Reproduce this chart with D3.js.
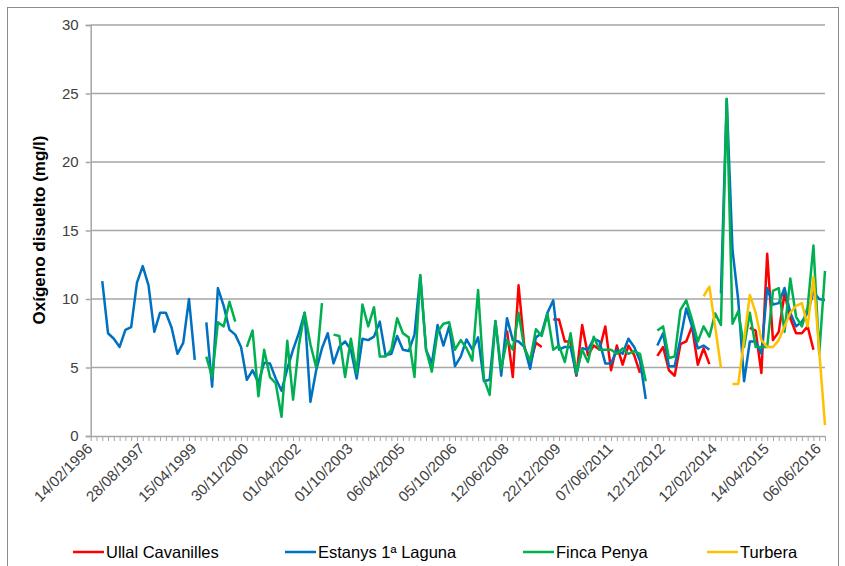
<!DOCTYPE html>
<html><head><meta charset="utf-8">
<script src="https://cdn.jsdelivr.net/npm/d3@7"></script>
<style>body{margin:0;background:#fff}svg{display:block}</style>
</head><body>
<svg id="chart" width="845" height="566"></svg>
<script>
// ---- data ----
const tickLabels = ["14/02/1996","28/08/1997","15/04/1999","30/11/2000","01/04/2002","01/10/2003","06/04/2005","05/10/2006","12/06/2008","22/12/2009","07/06/2011","12/12/2012","12/02/2014","14/04/2015","06/06/2016"];
const labelEvery = 9;          // one label every 9 sampling dates
const nCategories = 128;       // sampling dates on the category axis
const categories = d3.range(nCategories);
const yTicks = [0,5,10,15,20,25,30];
const seriesNames = ["Ullal Cavanilles","Estanys 1ª Laguna","Finca Penya","Turbera"];
const seriesColors = ["#ff0000","#0070c0","#00b050","#ffc000"];

const ullal = [
 null,null,null,null,null,null,null,null,null,null,
 null,null,null,null,null,null,null,null,null,null,
 null,null,null,null,null,null,null,null,null,null,
 null,null,null,null,null,null,null,null,null,null,
 null,null,null,null,null,null,null,null,null,null,
 null,null,null,null,null,null,null,null,null,null,
 null,null,null,null,null,null,null,null,null,null,
 null,null,7.7,4.3,11.0,6.5,5.3,6.8,6.5,null,
 8.5,8.5,6.9,6.9,4.4,8.1,5.9,6.6,6.3,8.0,
 4.8,6.6,5.2,6.6,5.9,4.6,null,null,5.85,6.5,
 4.8,4.4,6.7,6.9,8.0,5.2,6.4,5.25,null,null,
 null,null,null,null,7.9,7.7,4.6,13.3,7.0,7.6,
 10.4,8.6,7.5,7.5,8.0,6.3,null,null];

const estanys = [
 null,null,11.3,7.5,7.1,6.5,7.75,7.95,11.2,12.4,
 11.0,7.6,9.0,9.0,7.9,6.0,6.8,10.0,5.55,null,
 8.3,3.6,10.8,9.5,7.75,7.4,6.5,4.1,4.8,3.9,
 5.35,5.3,4.2,3.3,4.9,6.3,7.5,9.0,2.5,4.8,
 6.4,7.5,5.3,6.5,6.9,6.3,4.2,7.1,7.0,7.25,
 8.35,5.9,6.0,7.3,6.3,6.2,7.4,11.7,6.3,5.3,
 8.1,6.6,8.0,5.1,5.8,7.05,6.3,7.2,4.0,4.1,
 8.4,4.4,8.6,7.0,6.9,6.5,4.9,7.2,7.5,9.0,
 9.9,6.3,6.5,6.5,4.45,6.4,6.3,7.1,6.9,5.3,
 5.3,6.3,6.0,7.1,6.5,5.5,2.7,null,6.6,7.5,
 5.1,5.1,7.1,9.3,8.0,6.4,6.6,6.3,null,10.4,
 24.6,13.6,9.9,4.0,6.9,6.9,6.0,10.8,9.6,9.7,
 10.8,9.0,8.0,8.35,9.0,10.5,10.0,9.9];

const fincaPenya = [
 null,null,null,null,null,null,null,null,null,null,
 null,null,null,null,null,null,null,null,null,null,
 5.8,4.3,8.3,8.0,9.8,8.35,null,6.5,7.7,2.9,
 6.3,4.3,3.85,1.4,6.95,2.65,6.6,9.0,6.7,5.0,
 9.7,null,7.4,7.3,4.3,7.1,4.6,9.6,8.0,9.4,
 5.8,5.8,6.3,8.6,7.5,7.2,4.3,11.75,6.3,4.7,
 7.6,8.2,8.3,6.3,7.0,6.4,5.5,10.65,4.2,3.0,
 8.35,4.9,7.0,6.3,9.0,6.4,5.5,7.8,7.3,8.9,
 6.3,6.6,5.4,7.5,4.6,6.3,5.4,7.25,6.3,6.3,
 6.3,6.0,6.4,6.0,6.2,6.0,4.0,null,7.7,8.0,
 5.7,5.8,9.2,9.9,8.5,6.9,8.0,7.25,8.95,8.1,
 24.6,8.2,9.1,6.5,9.0,6.5,6.5,6.5,10.6,10.8,
 7.6,11.5,8.7,8.0,9.4,13.9,6.0,12.05];

const turbera = [
 null,null,null,null,null,null,null,null,null,null,
 null,null,null,null,null,null,null,null,null,null,
 null,null,null,null,null,null,null,null,null,null,
 null,null,null,null,null,null,null,null,null,null,
 null,null,null,null,null,null,null,null,null,null,
 null,null,null,null,null,null,null,null,null,null,
 null,null,null,null,null,null,null,null,null,null,
 null,null,null,null,null,null,null,null,null,null,
 null,null,null,null,null,null,null,null,null,null,
 null,null,null,null,null,null,null,null,null,null,
 null,null,null,null,null,null,10.2,10.9,8.0,5.0,
 null,3.8,3.8,7.0,10.3,9.0,7.0,6.5,6.5,7.0,
 8.0,9.0,9.5,9.7,8.0,11.6,6.2,0.8];

const allSeries = [ullal, estanys, fincaPenya, turbera];

// ---- chart ----
const svg = d3.select("#chart");
const plotLeft = 90.7, plotRight = 825, plotTop = 25, plotBottom = 436;
const x = d3.scalePoint().domain(categories).range([plotLeft, plotRight]);
const y = d3.scaleLinear().domain([0, 30]).range([plotBottom, plotTop]);
const font = "Liberation Sans, Arial, sans-serif";

// outer border
svg.append("rect").attr("x", 7.5).attr("y", 7.5).attr("width", 831).attr("height", 560)
  .attr("fill", "none").attr("stroke", "#8c8c8c").attr("stroke-width", 1);

// gridlines
svg.append("g").selectAll("line").data(yTicks.filter(d => d > 0)).join("line")
  .attr("x1", plotLeft).attr("x2", plotRight)
  .attr("y1", d => y(d)).attr("y2", d => y(d))
  .attr("stroke", "#a6a6a6").attr("stroke-width", 1.5);

// y axis
const yAxis = d3.axisLeft(y).tickValues(yTicks).tickSize(5).tickPadding(7);
const gy = svg.append("g").attr("transform", `translate(${plotLeft},0)`).call(yAxis);
gy.select(".domain").attr("stroke", "#a6a6a6").attr("stroke-width", 1.5);
gy.selectAll(".tick line").attr("stroke", "#a6a6a6").attr("stroke-width", 1.5);
gy.selectAll("text").attr("font-family", font).attr("font-size", 15).attr("fill", "#404040");

// x axis (category ticks at every sampling date)
const xAxis = d3.axisBottom(x).tickValues(categories).tickSize(5).tickFormat("");
const gx = svg.append("g").attr("transform", `translate(0,${plotBottom})`).call(xAxis);
gx.select(".domain").attr("stroke", "#a6a6a6").attr("stroke-width", 1.5).attr("d", `M${plotLeft},0.5H${plotRight}`);
gx.selectAll(".tick line").attr("stroke", "#a6a6a6").attr("stroke-width", 1);

// x labels
svg.append("g").selectAll("text").data(tickLabels).join("text")
  .attr("transform", (d, i) => `translate(${x(i * labelEvery) - 1},${446}) rotate(-45)`)
  .attr("text-anchor", "end").attr("dy", "0.35em")
  .attr("font-family", font).attr("font-size", 15).attr("fill", "#404040")
  .text(d => d);

// y title
svg.append("text").attr("transform", `translate(45,230) rotate(-90)`)
  .attr("text-anchor", "middle").attr("font-family", font)
  .attr("font-weight", "bold").attr("font-size", 17).attr("fill", "#000").text("Oxígeno disuelto (mg/l)");

// lines
const line = d3.line().defined(d => d.v != null).x(d => x(d.i)).y(d => y(d.v));
svg.append("g").selectAll("path").data(allSeries).join("path")
  .attr("d", s => line(s.map((v, i) => ({i, v}))))
  .attr("fill", "none").attr("stroke", (s, k) => seriesColors[k])
  .attr("stroke-width", 2.5).attr("stroke-linejoin", "round");

// legend
const legendX = [73, 285, 523, 707];
const lg = svg.append("g").selectAll("g").data(seriesNames).join("g")
  .attr("transform", (d, k) => `translate(${legendX[k]},552)`);
lg.append("line").attr("x1", 0).attr("x2", 31).attr("stroke", (d, k) => seriesColors[k]).attr("stroke-width", 2.5);
lg.append("text").attr("x", 33).attr("dy", "0.35em").attr("font-family", "Liberation Sans Narrow, Arial Narrow, sans-serif")
  .attr("font-size", 16.5).attr("fill", "#000").text(d => d);
</script>
</body></html>
